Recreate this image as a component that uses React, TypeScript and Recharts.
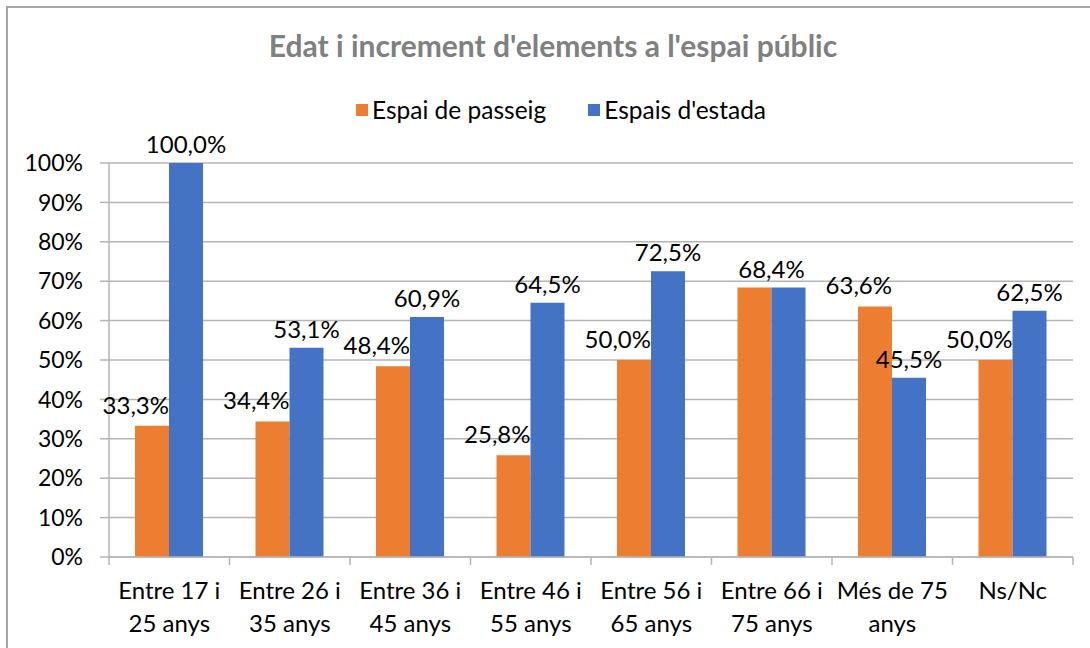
import { BarChart, Bar, XAxis, YAxis, CartesianGrid, LabelList } from 'recharts'

const categories = [
  'Entre 17 i 25 anys',
  'Entre 26 i 35 anys',
  'Entre 36 i 45 anys',
  'Entre 46 i 55 anys',
  'Entre 56 i 65 anys',
  'Entre 66 i 75 anys',
  'Més de 75 anys',
  'Ns/Nc',
]
const passeig = [33.3, 34.4, 48.4, 25.8, 50.0, 68.4, 63.6, 50.0]
const estada = [100.0, 53.1, 60.9, 64.5, 72.5, 68.4, 45.5, 62.5]
const yTicks = [0, 10, 20, 30, 40, 50, 60, 70, 80, 90, 100]

const SERIES = [
  { key: 'passeig', name: 'Espai de passeig', color: '#ED7D31' },
  { key: 'estada', name: "Espais d'estada", color: '#4472C4' },
]

const data = categories.map((c, i) => ({ cat: c, passeig: passeig[i], estada: estada[i] }))

const FONT = 'Lato, "Open Sans", sans-serif'
const W = 1090
const H = 648
const MARGIN = { top: 163, right: 17, bottom: 0, left: 0 }
const Y_WIDTH = 109
const X_HEIGHT = 91
const BAND = (W - MARGIN.right - Y_WIDTH) / categories.length
const GRID = '#b4b4b4'

function fmt(v: number) {
  return v.toFixed(1).replace('.', ',') + '%'
}

// greedy wrap like the Excel axis labels
function wrap(text: string, max = 10): string[] {
  const lines: string[] = []
  let cur = ''
  for (const w of text.split(' ')) {
    const next = cur ? cur + ' ' + w : w
    if (cur && next.length > max) {
      lines.push(cur)
      cur = w
    } else cur = next
  }
  if (cur) lines.push(cur)
  return lines
}

function XTick(props: any) {
  const { x, y, payload, index } = props
  const lines = wrap(String(payload.value))
  return (
    <g>
      <line x1={x - BAND / 2} x2={x - BAND / 2} y1={y} y2={y + 8} stroke={GRID} strokeWidth={1.5} />
      {index === categories.length - 1 && (
        <line x1={x + BAND / 2} x2={x + BAND / 2} y1={y} y2={y + 8} stroke={GRID} strokeWidth={1.5} />
      )}
      {lines.map((l, i) => (
        <text key={i} x={x} y={y + 42 + i * 33} textAnchor="middle" fontSize={24} fill="#000" fontFamily={FONT}>
          {l}
        </text>
      ))}
    </g>
  )
}

function passeigLabel(props: any) {
  const { x, y, width, value, index } = props
  if (value === estada[index]) return null
  return (
    <text x={x + width} y={y - 12} textAnchor="end" fontSize={24} fill="#000" fontFamily={FONT}>
      {fmt(value)}
    </text>
  )
}

function estadaLabel(props: any) {
  const { x, y, width, value, index } = props
  const cx = value === passeig[index] ? x : x + width / 2
  return (
    <text x={cx} y={y - 10} textAnchor="middle" fontSize={24} fill="#000" fontFamily={FONT}>
      {fmt(value)}
    </text>
  )
}

export default function App() {
  return (
    <div style={{ position: 'absolute', left: 0, top: 0, width: W, height: H, overflow: 'hidden', background: '#fff' }}>
      <div
        style={{
          position: 'absolute',
          left: 6,
          top: 6,
          width: W + 20,
          height: H + 20,
          border: '2px solid #a6a6a6',
        }}
      />
      <div
        style={{
          position: 'absolute',
          top: 27,
          left: 8,
          width: W,
          textAlign: 'center',
          fontFamily: FONT,
          fontWeight: 700,
          fontSize: 30,
          lineHeight: '36px',
          color: '#808080',
        }}
      >
        Edat i increment d'elements a l'espai públic
      </div>
      <div
        style={{
          position: 'absolute',
          top: 94,
          left: 16,
          width: W,
          display: 'flex',
          justifyContent: 'center',
          gap: 42,
          fontFamily: FONT,
          fontSize: 24.5,
          lineHeight: '32px',
          color: '#000',
        }}
      >
        {SERIES.map((s) => (
          <div key={s.key} style={{ display: 'flex', alignItems: 'center', gap: 4 }}>
            <span style={{ width: 12, height: 12, background: s.color, display: 'inline-block' }} />
            <span>{s.name}</span>
          </div>
        ))}
      </div>
      <BarChart
        width={W}
        height={H}
        data={data}
        margin={MARGIN}
        barCategoryGap={26}
        barGap={0}
        style={{ position: 'absolute', left: 0, top: 0 }}
      >
        <CartesianGrid vertical={false} stroke={GRID} strokeWidth={1.5} />
        <XAxis
          dataKey="cat"
          height={X_HEIGHT}
          interval={0}
          tickLine={false}
          tickSize={0}
          tickMargin={0}
          axisLine={{ stroke: GRID, strokeWidth: 1.5 }}
          tick={<XTick />}
        />
        <YAxis
          width={Y_WIDTH}
          domain={[0, 100]}
          ticks={yTicks}
          interval={0}
          tickFormatter={(v) => `${v}%`}
          tickSize={9}
          tickMargin={17}
          tick={{ fontSize: 23, fill: '#000', fontFamily: FONT }}
          axisLine={{ stroke: GRID, strokeWidth: 1.5 }}
          tickLine={{ stroke: GRID, strokeWidth: 1.5 }}
        />
        <Bar dataKey="passeig" name="Espai de passeig" fill="#ED7D31" isAnimationActive={false}>
          <LabelList dataKey="passeig" content={passeigLabel} />
        </Bar>
        <Bar dataKey="estada" name="Espais d'estada" fill="#4472C4" isAnimationActive={false}>
          <LabelList dataKey="estada" content={estadaLabel} />
        </Bar>
      </BarChart>
    </div>
  )
}
